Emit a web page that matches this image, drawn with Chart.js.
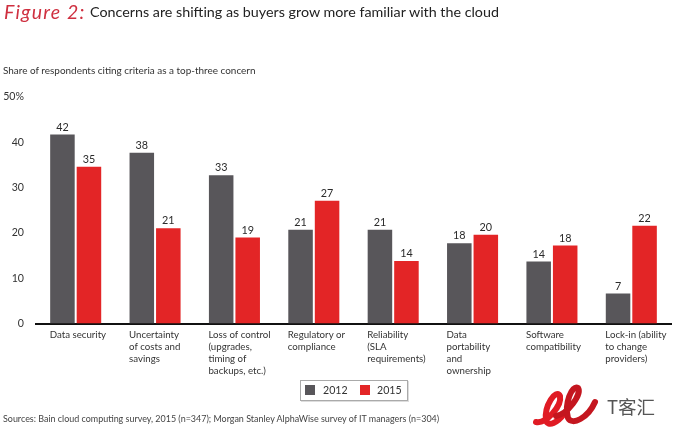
<!DOCTYPE html>
<html><head><meta charset="utf-8">
<script src="https://cdn.jsdelivr.net/npm/chart.js@4"></script>
<style>
html,body{margin:0;padding:0;background:#fff;width:674px;height:438px;overflow:hidden;font-family:Lato,sans-serif;color:#2b2b2b}
#wrap{position:relative;width:674px;height:438px}
canvas{position:absolute;left:0;top:0}
.t{position:absolute;white-space:nowrap}
#fig{left:4px;top:0px;font:italic 400 19.5px Lato;color:#cf3040;letter-spacing:1.2px}
#title{left:90px;top:3px;font:400 14.3px Lato;color:#222}
#sub{left:3px;top:64px;font:400 9.95px Lato;color:#333}
#src{left:3px;top:413px;font:400 8.95px Lato;color:#444}
#legend{position:absolute;left:300px;top:380px;width:106px;height:19px;border:1px solid #aaa;box-shadow:1px 1px 0 #ddd}
.sw{position:absolute;top:4px;width:10px;height:10px}
.lt{position:absolute;top:3px;font:400 10.6px Lato;color:#333}
#wm{position:absolute;left:532px;top:382px}
#wmt{left:607px;top:393px;font:400 18.5px "Noto Sans CJK SC";color:#555}
</style></head><body>
<div id="wrap">
<canvas id="c" width="674" height="438"></canvas>
<div class="t" id="fig">Figure 2:</div>
<div class="t" id="title">Concerns are shifting as buyers grow more familiar with the cloud</div>
<div class="t" id="sub">Share of respondents citing criteria as a top-three concern</div>
<div id="legend"></div>
<div class="t" id="src">Sources: Bain cloud computing survey, 2015 (n=347); Morgan Stanley AlphaWise survey of IT managers (n=304)</div>
<svg id="wm" width="70" height="50" viewBox="0 0 70 50">
<path d="M4 40C14 42 30 24 28 14C24 6 12 24 14 38C16 46 26 40 32 32" fill="none" stroke="#e01b24" stroke-width="6" stroke-linecap="round"/>
<path d="M24 34C36 32 50 12 46 6C40 2 32 22 36 36C40 44 56 36 63 20" fill="none" stroke="#c4161f" stroke-width="6" stroke-linecap="round"/>
</svg>
<div class="t" id="wmt">T客汇</div>
</div>
<script>
const categories = [
  ["Data security"],
  ["Uncertainty","of costs and","savings"],
  ["Loss of control","(upgrades,","timing of","backups, etc.)"],
  ["Regulatory or","compliance"],
  ["Reliability","(SLA","requirements)"],
  ["Data","portability","and","ownership"],
  ["Software","compatibility"],
  ["Lock-in (ability","to change","providers)"]
];
const series2012 = [41.7,37.7,32.7,20.7,20.7,17.7,13.7,6.6];
const series2015 = [34.6,21.0,19.0,27.1,13.8,19.6,17.2,21.6];
const labels2012 = [42,38,33,21,21,18,14,7];
const labels2015 = [35,21,19,27,14,20,18,22];
const yTicks = {0:"0",10:"10",20:"20",30:"30",40:"40",50:"50%"};
const colors = {"2012":"#58565a","2015":"#e32526"};

const valueLabels = {
  id:'valueLabels',
  afterDatasetsDraw(ch){
    const g=ch.ctx; g.save();
    g.font='400 10.8px Lato'; g.fillStyle='#2b2b2b'; g.textAlign='center'; g.textBaseline='bottom';
    [labels2012,labels2015].forEach((texts,i)=>{
      ch.getDatasetMeta(i).data.forEach((b,j)=>g.fillText(texts[j],b.x,b.y-2));
    });
    g.restore();
  }
};
const chart = new Chart(document.getElementById('c'),{
  type:'bar',
  data:{labels:categories,datasets:[
    {label:'2012',data:series2012,backgroundColor:colors["2012"]},
    {label:'2015',data:series2015,backgroundColor:colors["2015"]}
  ]},
  options:{
    responsive:false,animation:false,devicePixelRatio:1,
    categoryPercentage:0.668,barPercentage:0.925,
    layout:{padding:{top:97,left:0,right:3,bottom:0}},
    plugins:{legend:{display:false},title:{display:false},tooltip:{enabled:false}},
    scales:{
      x:{
        grid:{display:false,drawTicks:false},
        border:{color:'#111',width:2},
        afterFit(s){s.height=114.5;s.paddingLeft=0;s.paddingRight=0;},
        ticks:{autoSkip:false,maxRotation:0,minRotation:0,align:'start',labelOffset:-26,padding:5,
          color:'#333',font:{family:'Lato',size:9.7,lineHeight:1.26}}
      },
      y:{
        min:0,max:50,
        grid:{display:false,drawTicks:false},
        border:{display:false},
        afterFit(s){s.width=36;},
        ticks:{stepSize:10,padding:12,color:'#333',font:{family:'Lato',size:10.6},
          callback:v=>yTicks[v]}
      }
    }
  },
  plugins:[valueLabels]
});
const lg=document.getElementById('legend');
let pos=[[4,22],[59,76]];
chart.data.datasets.forEach((d,i)=>{
  lg.insertAdjacentHTML('beforeend',`<div class="sw" style="left:${pos[i][0]}px;background:${d.backgroundColor}"></div><div class="lt" style="left:${pos[i][1]}px">${d.label}</div>`);
});
</script>
</body></html>
